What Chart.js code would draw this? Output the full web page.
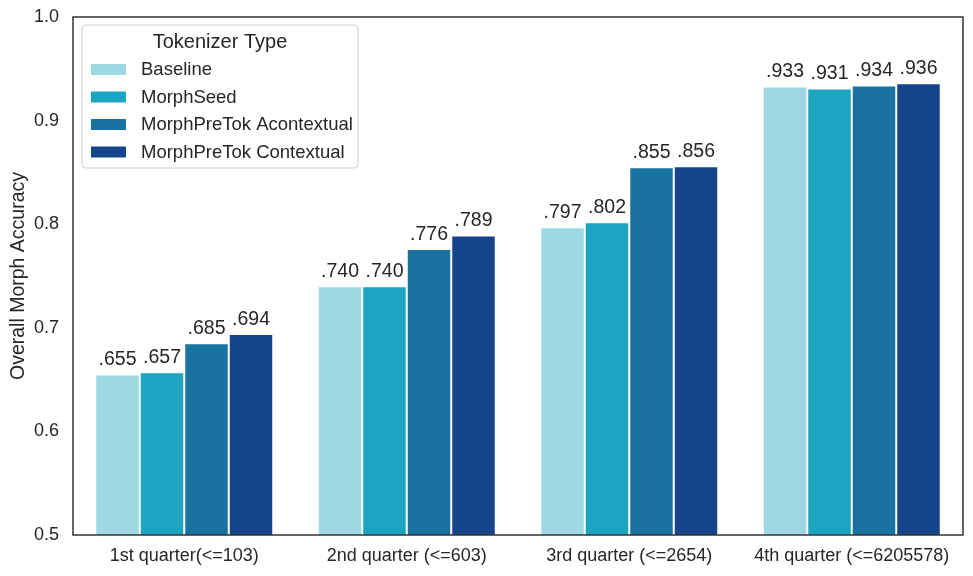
<!DOCTYPE html>
<html>
<head>
<meta charset="utf-8">
<script src="https://cdn.jsdelivr.net/npm/chart.js@4.4.1/dist/chart.umd.min.js"></script>
<style>
  html, body { margin: 0; padding: 0; background: #fff; }
  #wrap { width: 973px; height: 576px; }
</style>
</head>
<body>
<div id="wrap"><canvas id="chart"></canvas></div>
<script>
const categories = ['1st quarter(<=103)', '2nd quarter (<=603)', '3rd quarter (<=2654)', '4th quarter (<=6205578)'];
const seriesNames = ['Baseline', 'MorphSeed', 'MorphPreTok Acontextual', 'MorphPreTok Contextual'];
const baseline = [0.655, 0.740, 0.797, 0.933];
const morphSeed = [0.657, 0.740, 0.802, 0.931];
const acontextual = [0.685, 0.776, 0.855, 0.934];
const contextual = [0.694, 0.789, 0.856, 0.936];
const colors = ['#9dd8e3', '#1ca4c0', '#1a72a0', '#16448a'];

const FONT = "'Liberation Sans', Arial, sans-serif";
const TXT = '#262626';

// etiquetas de valor acima das barras
const valueLabels = {
    id: 'valueLabels',
    afterDatasetsDraw(chart) {
        const ctx = chart.ctx;
        ctx.save();
        ctx.font = '19.5px ' + FONT;
        ctx.fillStyle = TXT;
        ctx.textAlign = 'center';
        ctx.textBaseline = 'bottom';
        chart.data.datasets.forEach((ds, i) => {
            chart.getDatasetMeta(i).data.forEach((bar, j) => {
                const txt = ds.data[j].toFixed(3).replace(/^0/, '');
                ctx.fillText(txt, bar.x, bar.y - 5);
            });
        });
        ctx.restore();
    }
};

// moldura do gráfico + legenda dentro da área
const frameAndLegend = {
    id: 'frameAndLegend',
    afterDraw(chart) {
        const ctx = chart.ctx;
        const a = chart.chartArea;
        ctx.save();
        ctx.strokeStyle = '#333333';
        ctx.lineWidth = 1.5;
        ctx.strokeRect(a.left, a.top, a.right - a.left, a.bottom - a.top);

        // legenda
        const x0 = a.left + 9, y0 = a.top + 8, w = 276, h = 143;
        ctx.fillStyle = 'rgba(255,255,255,0.85)';
        ctx.strokeStyle = '#d0d0d0';
        ctx.lineWidth = 1;
        ctx.beginPath();
        ctx.roundRect(x0, y0, w, h, 4);
        ctx.fill();
        ctx.stroke();

        ctx.fillStyle = TXT;
        ctx.font = '20px ' + FONT;
        ctx.textAlign = 'center';
        ctx.textBaseline = 'middle';
        ctx.fillText('Tokenizer Type', x0 + 138, y0 + 17);

        ctx.font = '18.5px ' + FONT;
        ctx.textAlign = 'left';
        chart.data.datasets.forEach((ds, i) => {
            const yy = y0 + 44 + i * 27.5;
            ctx.fillStyle = ds.backgroundColor;
            ctx.fillRect(x0 + 9, yy - 5, 35, 11);
            ctx.fillStyle = TXT;
            ctx.fillText(ds.label, x0 + 59, yy + 1);
        });
        ctx.restore();
    }
};

const seriesData = [baseline, morphSeed, acontextual, contextual];

new Chart(document.getElementById('chart'), {
    type: 'bar',
    data: {
        labels: categories,
        datasets: seriesNames.map((name, i) => ({
            label: name,
            data: seriesData[i],
            backgroundColor: colors[i],
            borderColor: '#ffffff',
            borderWidth: 1,
            barPercentage: 1,
            categoryPercentage: 0.8
        }))
    },
    options: {
        responsive: true,
        maintainAspectRatio: false,
        animation: false,
        layout: { padding: { left: 0, top: 17, right: 10, bottom: 0 } },
        plugins: {
            legend: { display: false },
            tooltip: { enabled: false }
        },
        scales: {
            x: {
                grid: { display: false, drawTicks: false },
                border: { display: false },
                ticks: { color: TXT, font: { family: FONT, size: 18 }, padding: 10 },
                afterFit(scale) {
                    scale.height = 41;
                    scale.paddingLeft = 0;
                    scale.paddingRight = 0;
                }
            },
            y: {
                min: 0.5,
                max: 1.0,
                grid: { display: false, drawTicks: false },
                border: { display: false },
                ticks: {
                    stepSize: 0.1,
                    color: TXT,
                    font: { family: FONT, size: 18 },
                    padding: 14,
                    callback: v => v.toFixed(1)
                },
                title: {
                    display: true,
                    text: 'Overall Morph Accuracy',
                    color: TXT,
                    font: { family: FONT, size: 19.5 },
                    padding: { top: 7, bottom: 0 }
                },
                afterFit(scale) {
                    scale.width = 73;
                    scale.paddingTop = 0;
                    scale.paddingBottom = 0;
                }
            }
        }
    },
    plugins: [valueLabels, frameAndLegend]
});
</script>
</body>
</html>
